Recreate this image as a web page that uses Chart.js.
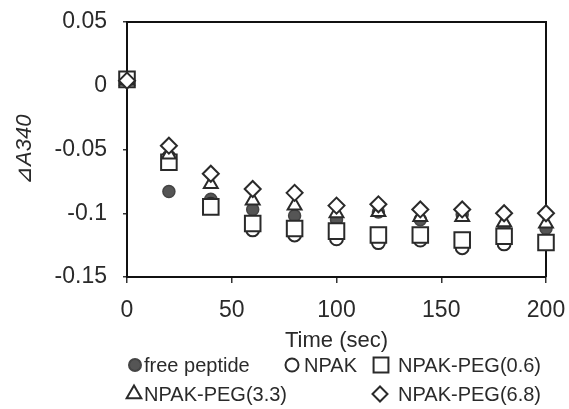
<!DOCTYPE html>
<html>
<head>
<meta charset="utf-8">
<script src="https://cdn.jsdelivr.net/npm/chart.js@4.4.1/dist/chart.umd.min.js"></script>
<style>
  html, body { margin: 0; padding: 0; background: #fff; overflow: hidden; }
</style>
</head>
<body>
<canvas id="absorbanceChart" width="569" height="409"></canvas>
<script>
// time points (sec) and dA340 values
var times = [0, 20, 40, 60, 80, 100, 120, 140, 160, 180, 200];
var freePeptide = [0.004, -0.083, -0.089, -0.097, -0.102, -0.105, -0.099, -0.105, -0.101, -0.112, -0.112];
var npak        = [0.004, -0.056, -0.093, -0.113, -0.117, -0.120, -0.123, -0.121, -0.127, -0.124, -0.122];
var npakPeg06   = [0.005, -0.060, -0.095, -0.108, -0.112, -0.114, -0.117, -0.117, -0.121, -0.118, -0.123];
var npakPeg33   = [0.004, -0.054, -0.077, -0.090, -0.094, -0.100, -0.099, -0.103, -0.103, -0.107, -0.108];
var npakPeg68   = [0.004, -0.047, -0.069, -0.081, -0.084, -0.094, -0.093, -0.097, -0.097, -0.100, -0.100];

var seriesLabels = ['free peptide', 'NPAK', 'NPAK-PEG(0.6)', 'NPAK-PEG(3.3)', 'NPAK-PEG(6.8)'];
var xTickLabels = ['0', '50', '100', '150', '200'];
var yTickLabels = ['-0.15', '-0.1', '-0.05', '0', '0.05'];

function pts(values) {
    return values.map(function(v, i) { return {x: times[i], y: v}; });
}

var ink = '#2a2a2a';
var fontFamily = '"Liberation Sans", Arial, "DejaVu Sans", sans-serif';

// legend laid out like the original figure (two rows, three columns)
var figureLegend = {
    id: 'figureLegend',
    afterDraw: function(chart) {
        var ctx = chart.ctx;
        var slots = [
            {ds: 0, mx: 135, tx: 144, y: 365},
            {ds: 1, mx: 292, tx: 304, y: 365},
            {ds: 2, mx: 381, tx: 398, y: 365},
            {ds: 3, mx: 134, tx: 144, y: 394},
            {ds: 4, mx: 380, tx: 398, y: 394}
        ];
        ctx.save();
        ctx.font = '20px ' + fontFamily;
        ctx.textBaseline = 'middle';
        ctx.textAlign = 'left';
        slots.forEach(function(s) {
            var ds = chart.data.datasets[s.ds];
            ctx.fillStyle = ds.pointBackgroundColor;
            ctx.strokeStyle = ds.pointBorderColor;
            ctx.lineWidth = 2;
            Chart.helpers.drawPoint(ctx, {
                pointStyle: ds.pointStyle,
                radius: ds.legendRadius,
                rotation: 0,
                borderWidth: 2
            }, s.mx, s.y);
            ctx.fillStyle = ink;
            ctx.fillText(ds.label, s.tx, s.y + 1);
        });
        ctx.restore();
    }
};

// closes the plot box on the top and right
var plotFrame = {
    id: 'plotFrame',
    beforeDatasetsDraw: function(chart) {
        var a = chart.chartArea, ctx = chart.ctx;
        ctx.save();
        ctx.strokeStyle = '#111';
        ctx.lineWidth = 2;
        ctx.beginPath();
        ctx.moveTo(a.left, a.top);
        ctx.lineTo(a.right, a.top);
        ctx.lineTo(a.right, a.bottom);
        ctx.stroke();
        ctx.restore();
    }
};

var ctx = document.getElementById('absorbanceChart');
var chart = new Chart(ctx, {
    type: 'scatter',
    data: {
        datasets: [{
            label: seriesLabels[0],
            data: pts(freePeptide),
            pointStyle: 'circle',
            pointRadius: 6,
            legendRadius: 6,
            pointBackgroundColor: '#555',
            pointBorderColor: '#444',
            pointBorderWidth: 1.5,
            clip: false,
            order: 4
        }, {
            label: seriesLabels[1],
            data: pts(npak),
            pointStyle: 'circle',
            pointRadius: 6.5,
            legendRadius: 6.5,
            pointBackgroundColor: '#fff',
            pointBorderColor: ink,
            pointBorderWidth: 2,
            clip: false,
            order: 3
        }, {
            label: seriesLabels[2],
            data: pts(npakPeg06),
            pointStyle: 'rect',
            pointRadius: 11,
            legendRadius: 10.5,
            pointBackgroundColor: '#fff',
            pointBorderColor: ink,
            pointBorderWidth: 2,
            clip: false,
            order: 2
        }, {
            label: seriesLabels[3],
            data: pts(npakPeg33),
            pointStyle: 'triangle',
            pointRadius: 8,
            legendRadius: 8.5,
            pointBackgroundColor: '#fff',
            pointBorderColor: ink,
            pointBorderWidth: 2,
            clip: false,
            order: 1
        }, {
            label: seriesLabels[4],
            data: pts(npakPeg68),
            pointStyle: 'rectRot',
            pointRadius: 8,
            legendRadius: 7.5,
            pointBackgroundColor: '#fff',
            pointBorderColor: ink,
            pointBorderWidth: 2,
            clip: false,
            order: 0
        }]
    },
    options: {
        responsive: false,
        animation: false,
        layout: { padding: { left: 0, top: 22, right: 23, bottom: 52 } },
        plugins: {
            legend: { display: false },
            tooltip: { enabled: false }
        },
        scales: {
            x: {
                type: 'linear',
                min: 0,
                max: 200,
                afterFit: function(scale) {
                    scale.height = 80;
                    scale.paddingLeft = 0;
                    scale.paddingRight = 0;
                },
                ticks: {
                    stepSize: 50,
                    padding: 14,
                    maxRotation: 0,
                    color: ink,
                    font: { family: fontFamily, size: 23 },
                    callback: function(value, index) { return xTickLabels[index]; }
                },
                grid: { drawOnChartArea: false, drawTicks: true, tickLength: 6, color: '#333', lineWidth: 1.5 },
                border: { display: true, color: '#111', width: 2 },
                title: {
                    display: true,
                    text: 'Time (sec)',
                    color: ink,
                    padding: { top: 0, bottom: 3 },
                    font: { family: fontFamily, size: 22 }
                }
            },
            y: {
                type: 'linear',
                min: -0.15,
                max: 0.05,
                afterFit: function(scale) {
                    scale.width = 127;
                    scale.paddingTop = 0;
                    scale.paddingBottom = 0;
                },
                ticks: {
                    stepSize: 0.05,
                    padding: 16,
                    color: ink,
                    font: { family: fontFamily, size: 23 },
                    callback: function(value, index) { return yTickLabels[index]; }
                },
                grid: { drawOnChartArea: false, drawTicks: true, tickLength: 4, color: '#333', lineWidth: 1.5 },
                border: { display: true, color: '#111', width: 2 },
                title: {
                    display: true,
                    text: '⊿A340',
                    color: ink,
                    padding: { top: 12, bottom: 0 },
                    font: { family: fontFamily, size: 22, style: 'italic' }
                }
            }
        }
    },
    plugins: [plotFrame, figureLegend]
});
</script>
</body>
</html>
